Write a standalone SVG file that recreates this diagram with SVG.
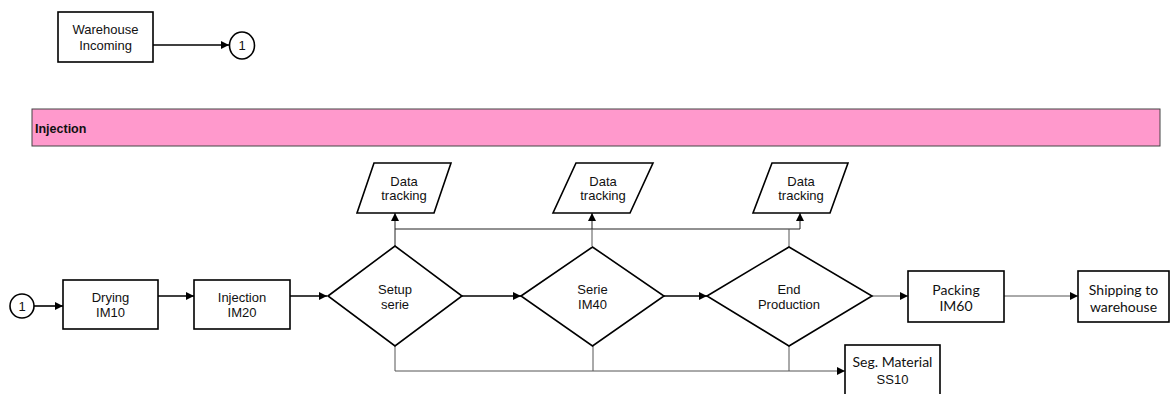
<svg xmlns="http://www.w3.org/2000/svg" width="1171" height="394" viewBox="0 0 1171 394">
<style>
.box{fill:#fff;stroke:#000;stroke-width:1.6}
.t{font-family:"Liberation Sans",Arial,sans-serif;font-size:13px;fill:#111;text-anchor:middle}
.c{font-family:Lato,"Liberation Sans",sans-serif;font-size:14px;fill:#111;text-anchor:middle}
.thick{fill:none;stroke:#000;stroke-width:1.6}
.thin{fill:none;stroke:#555;stroke-width:1}
.thinb{fill:none;stroke:#222;stroke-width:1}
</style>
<defs>
<marker id="ah" viewBox="0 0 10 10" refX="10" refY="5" markerWidth="8" markerHeight="8" markerUnits="userSpaceOnUse" orient="auto">
<path d="M0,0 L10,5 L0,10 z" fill="#000"/>
</marker>
</defs>
<rect width="1171" height="394" fill="#fff"/>

<g id="band">
<rect x="32" y="109" width="1128" height="37" fill="#FF99CC" stroke="#444" stroke-width="1"/>
<text x="35" y="133" font-family="Liberation Sans,Arial,sans-serif" font-size="12.5" font-weight="bold" fill="#111">Injection</text>
</g>

<g id="connectors">
<path class="thick" d="M153,45 H229" marker-end="url(#ah)"/>
<path class="thick" d="M34,306 H63" marker-end="url(#ah)"/>
<path class="thick" d="M158,296 H194" marker-end="url(#ah)"/>
<path class="thick" d="M290,296 H327" marker-end="url(#ah)"/>
<path class="thick" d="M462,296 H521" marker-end="url(#ah)"/>
<path class="thick" d="M664,296 H707" marker-end="url(#ah)"/>
<path class="thin" d="M872,296 H908" marker-end="url(#ah)"/>
<path class="thin" d="M1004,296 H1078" marker-end="url(#ah)"/>
<path class="thinb" d="M395,246 V213" marker-end="url(#ah)"/>
<path class="thinb" d="M395,229 H592 M592,229 V213" marker-end="url(#ah)"/>
<path class="thinb" d="M592,229 H800 V213" marker-end="url(#ah)"/>
<path class="thin" d="M592,246 V229 M789,247 V229"/>
<path class="thin" d="M395,346 V371 H845" marker-end="url(#ah)"/>
<path class="thin" d="M593,346 V371 M789,346 V371"/>
</g>

<g id="warehouse-incoming">
<rect class="box" x="58" y="12" width="95" height="50"/>
<text class="t" x="105.5" y="34">Warehouse</text>
<text class="t" x="105.5" y="50">Incoming</text>
</g>
<g id="conn1-top">
<ellipse class="box" cx="242" cy="45.5" rx="12.5" ry="13.5"/>
<text class="t" x="242" y="50">1</text>
</g>
<g id="conn1-left">
<ellipse class="box" cx="22" cy="306" rx="12" ry="12"/>
<text class="t" x="22" y="310.5">1</text>
</g>
<g id="drying">
<rect class="box" x="63" y="280" width="95" height="49"/>
<text class="t" x="110.5" y="302">Drying</text>
<text class="t" x="110.5" y="317">IM10</text>
</g>
<g id="injection">
<rect class="box" x="194" y="280" width="96" height="49"/>
<text class="t" x="242" y="302">Injection</text>
<text class="t" x="242" y="317">IM20</text>
</g>
<g id="setup">
<polygon class="box" points="328,296 395,246 462,296 395,346"/>
<text class="t" x="395" y="294">Setup</text>
<text class="t" x="395" y="309">serie</text>
</g>
<g id="serie">
<polygon class="box" points="521,296 592.5,247 664,296 592.5,346"/>
<text class="t" x="592.5" y="294">Serie</text>
<text class="t" x="592.5" y="309">IM40</text>
</g>
<g id="end">
<polygon class="box" points="707,296 789,247 872,296 789,346"/>
<text class="t" x="789" y="294">End</text>
<text class="t" x="789" y="309">Production</text>
</g>
<g id="data1">
<polygon class="box" points="374,163 451,163 434,213 357,213"/>
<text class="t" x="404" y="186">Data</text>
<text class="t" x="404" y="200">tracking</text>
</g>
<g id="data2">
<polygon class="box" points="576,163 653,163 630,213 553,213"/>
<text class="t" x="603" y="186">Data</text>
<text class="t" x="603" y="200">tracking</text>
</g>
<g id="data3">
<polygon class="box" points="772,163 848,163 830,213 753,213"/>
<text class="t" x="801" y="186">Data</text>
<text class="t" x="801" y="200">tracking</text>
</g>
<g id="packing">
<rect class="box" x="908" y="271" width="96" height="51"/>
<text class="c" x="956" y="295">Packing</text>
<text class="c" x="956" y="311">IM60</text>
</g>
<g id="shipping">
<rect class="box" x="1078" y="271" width="91" height="51"/>
<text class="c" x="1123.5" y="295">Shipping to</text>
<text class="c" x="1123.5" y="312">warehouse</text>
</g>
<g id="seg">
<rect class="box" x="845" y="345" width="95" height="55"/>
<text class="c" x="892.5" y="367">Seg. Material</text>
<text class="t" x="892.5" y="384">SS10</text>
</g>
</svg>
